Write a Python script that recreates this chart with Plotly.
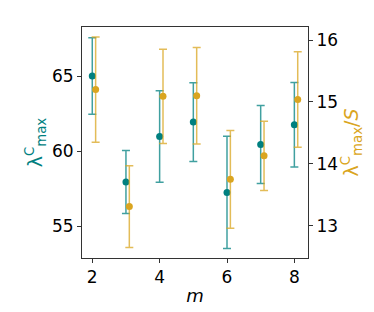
import plotly.graph_objects as go

m_values = [2, 3, 4, 5, 6, 7, 8]
gold_offset = 0.1
lam_max = [65.0, 57.93, 60.97, 61.93, 57.24, 60.44, 61.75]
lam_max_err = [2.55, 2.1, 3.05, 2.63, 3.74, 2.6, 2.82]
lam_max_S = [15.20, 13.31, 15.09, 15.10, 13.75, 14.13, 15.04]
lam_max_S_err = [0.85, 0.66, 0.76, 0.78, 0.79, 0.56, 0.77]

teal = "#008080"
gold = "#DAA520"
font = "DejaVu Sans"

fig = go.Figure()
fig.add_trace(go.Scatter(
    x=m_values, y=lam_max, mode="markers",
    marker=dict(color=teal, size=7),
    error_y=dict(type="data", array=lam_max_err, color="rgba(0,128,128,0.75)",
                 thickness=1.5, width=4),
    yaxis="y", showlegend=False))
fig.add_trace(go.Scatter(
    x=[v + gold_offset for v in m_values], y=lam_max_S, mode="markers",
    marker=dict(color=gold, size=7),
    error_y=dict(type="data", array=lam_max_S_err, color="rgba(218,165,32,0.75)",
                 thickness=1.5, width=4),
    yaxis="y2", showlegend=False))

axis_common = dict(showline=True, linecolor="#333", linewidth=1, ticks="outside",
                   ticklen=4, tickcolor="#333", showgrid=False, zeroline=False,
                   automargin=False,
                   tickfont=dict(family=font, size=17, color="black"))

fig.update_layout(
    width=374, height=312,
    margin=dict(l=74, r=74, t=19, b=62),
    plot_bgcolor="white", paper_bgcolor="white",
    xaxis=dict(range=[1.695, 8.405], tickvals=[2, 4, 6, 8], mirror=True,
               title=dict(text="<i>m</i>", font=dict(family=font, size=18, color="black"),
                          standoff=2),
               **axis_common),
    yaxis=dict(range=[52.87, 68.27], tickvals=[55, 60, 65],
               title=dict(text="λ<sup>C</sup><sub>max</sub>",
                          font=dict(family=font, size=19, color=teal), standoff=4),
               **axis_common),
    yaxis2=dict(range=[12.48, 16.21], tickvals=[13, 14, 15, 16], overlaying="y", side="right",
                title=dict(text="λ<sup>C</sup><sub>max</sub>/<i>S</i>",
                           font=dict(family=font, size=19, color=gold), standoff=4),
                **axis_common),
)

fig.write_html("out.html")
